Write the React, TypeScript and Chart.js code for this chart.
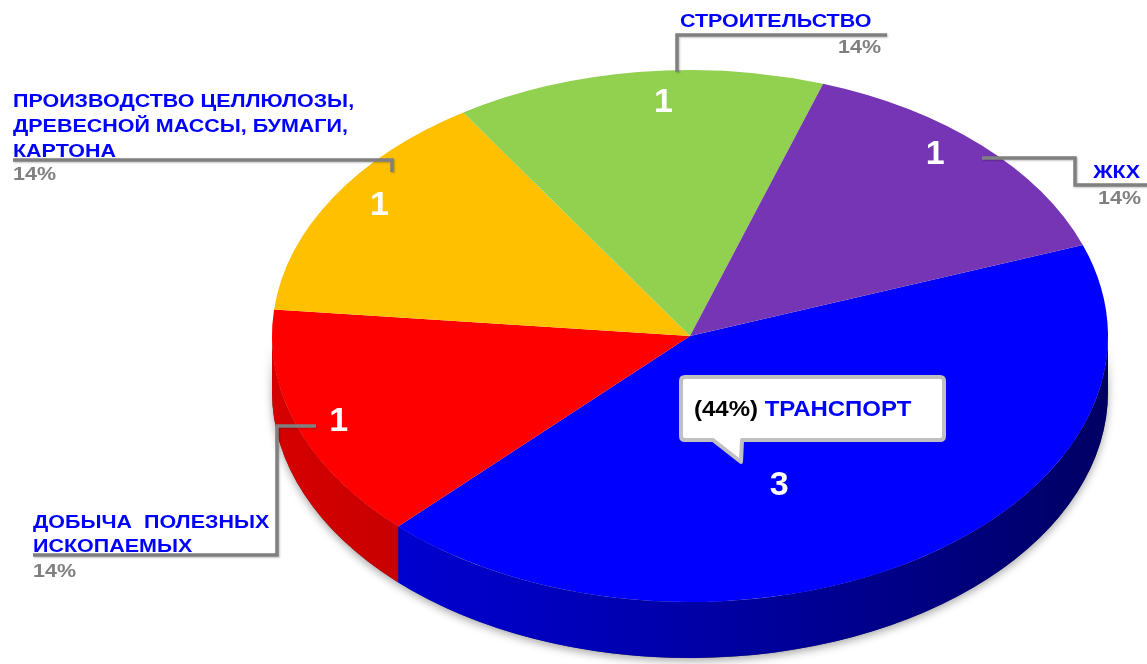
import React, { useEffect, useRef } from "react";
import { Chart, registerables } from "chart.js";

Chart.register(...registerables);

// ---------- data ----------
const categories = [
  "ТРАНСПОРТ",
  "ДОБЫЧА  ПОЛЕЗНЫХ ИСКОПАЕМЫХ",
  "ПРОИЗВОДСТВО ЦЕЛЛЮЛОЗЫ, ДРЕВЕСНОЙ МАССЫ, БУМАГИ, КАРТОНА",
  "СТРОИТЕЛЬСТВО",
  "ЖКХ",
];
const values = [3, 1, 1, 1, 1];
const percentLabels = ["44%", "14%", "14%", "14%", "14%"];
const categoryLines = [
  ["ТРАНСПОРТ"],
  ["ДОБЫЧА  ПОЛЕЗНЫХ", "ИСКОПАЕМЫХ"],
  ["ПРОИЗВОДСТВО ЦЕЛЛЮЛОЗЫ,", "ДРЕВЕСНОЙ МАССЫ, БУМАГИ,", "КАРТОНА"],
  ["СТРОИТЕЛЬСТВО"],
  ["ЖКХ"],
];

// ---------- styles ----------
const topColors = ["#0000FF", "#FF0000", "#FFC000", "#92D050", "#7535B5"];
const sideColors = [
  [0, 0, 235],
  [225, 0, 0],
  [230, 170, 0],
  [120, 180, 60],
  [95, 40, 150],
];
const GEO = { cx: 690, cy: 336, rx: 418, ry: 266, depth: 56 };
const valueLabelRadius = [0.6, 0.9, 0.89, 0.88, 0.9];
const valueLabelShiftDeg = [12, -1, 2, 3, -3.6];

const FONT = "'Liberation Sans', Arial, sans-serif";
const BLUE = "#0000FF";
const GRAY = "#808080";
const SX = 1.13;
const LBL = 19;

function drawText(
  ctx: CanvasRenderingContext2D,
  text: string,
  x: number,
  y: number,
  size: number,
  color: string,
  align: CanvasTextAlign,
  sx = SX
) {
  ctx.save();
  ctx.font = `bold ${size}px ${FONT}`;
  ctx.fillStyle = color;
  ctx.textAlign = align;
  ctx.textBaseline = "alphabetic";
  ctx.translate(x, y);
  ctx.scale(sx, 1);
  ctx.fillText(text, 0, 0);
  ctx.restore();
}

function polyline(ctx: CanvasRenderingContext2D, pts: number[][]) {
  ctx.save();
  ctx.strokeStyle = GRAY;
  ctx.lineWidth = 3.5;
  ctx.lineJoin = "miter";
  ctx.shadowColor = "rgba(0,0,0,0.25)";
  ctx.shadowBlur = 2;
  ctx.shadowOffsetX = 1;
  ctx.shadowOffsetY = 1;
  ctx.beginPath();
  ctx.moveTo(pts[0][0], pts[0][1]);
  for (let i = 1; i < pts.length; i++) ctx.lineTo(pts[i][0], pts[i][1]);
  ctx.stroke();
  ctx.restore();
}

function frontRanges(s: number, e: number) {
  const res: number[][] = [];
  for (let k = -3; k <= 3; k++) {
    const a0 = k * 2 * Math.PI;
    const a1 = a0 + Math.PI;
    const a = Math.max(s, a0);
    const b = Math.min(e, a1);
    if (b > a) res.push([a, b]);
  }
  return res;
}

const pie3d = {
  id: "pie3d",
  beforeDatasetsDraw(chart: any) {
    const ctx: CanvasRenderingContext2D = chart.ctx;
    const arcs = chart.getDatasetMeta(0).data;
    const { cx, cy, rx, ry, depth } = GEO;
    // soft shadow of the wall
    ctx.save();
    ctx.shadowColor = "rgba(0,0,0,0.35)";
    ctx.shadowBlur = 8;
    ctx.shadowOffsetY = 3;
    ctx.fillStyle = "#444";
    ctx.beginPath();
    ctx.ellipse(cx, cy, rx, ry, 0, 0, Math.PI, false);
    ctx.ellipse(cx, cy + depth, rx, ry, 0, Math.PI, 0, true);
    ctx.closePath();
    ctx.fill();
    ctx.restore();
    // walls
    arcs.forEach((arc: any, i: number) => {
      const { startAngle, endAngle } = arc.getProps(["startAngle", "endAngle"], true);
      const [r, g, b] = sideColors[i];
      const grad = ctx.createLinearGradient(cx - rx, 0, cx + rx, 0);
      const c = (f: number) => `rgb(${Math.round(r * f)},${Math.round(g * f)},${Math.round(b * f)})`;
      grad.addColorStop(0, c(0.95));
      grad.addColorStop(0.3, c(0.82));
      grad.addColorStop(0.7, c(0.6));
      grad.addColorStop(1, c(0.42));
      frontRanges(startAngle, endAngle).forEach(([a, bb]) => {
        ctx.save();
        ctx.fillStyle = grad;
        ctx.beginPath();
        ctx.ellipse(cx, cy, rx, ry, 0, a, bb, false);
        ctx.ellipse(cx, cy + depth, rx, ry, 0, bb, a, true);
        ctx.closePath();
        ctx.fill();
        ctx.restore();
      });
    });
    // top face transform: circle -> ellipse
    const a0 = arcs[0];
    const R = a0.outerRadius;
    ctx.save();
    ctx.translate(cx, cy);
    ctx.scale(rx / R, ry / R);
    ctx.translate(-a0.x, -a0.y);
  },
  afterDatasetsDraw(chart: any) {
    chart.ctx.restore();
  },
  afterDraw(chart: any) {
    const ctx: CanvasRenderingContext2D = chart.ctx;
    const arcs = chart.getDatasetMeta(0).data;
    const { cx, cy, rx, ry } = GEO;

    // value labels on slices
    arcs.forEach((arc: any, i: number) => {
      const { startAngle, endAngle } = arc.getProps(["startAngle", "endAngle"], true);
      const mid = (startAngle + endAngle) / 2 + (valueLabelShiftDeg[i] * Math.PI) / 180;
      const f = valueLabelRadius[i];
      const x = cx + rx * f * Math.cos(mid);
      const y = cy + ry * f * Math.sin(mid);
      ctx.save();
      ctx.font = `bold 34px ${FONT}`;
      ctx.fillStyle = "#FFFFFF";
      ctx.textAlign = "center";
      ctx.textBaseline = "middle";
      ctx.fillText(String(values[i]), x, y);
      ctx.restore();
    });

    // leader lines
    polyline(ctx, [[677, 72], [677, 35], [887, 35]]);
    polyline(ctx, [[982, 158], [1075, 158], [1075, 185], [1150, 185]]);
    polyline(ctx, [[13, 160], [392, 160], [392, 172]]);
    polyline(ctx, [[316, 426], [277, 426], [277, 555], [33, 555]]);

    // СТРОИТЕЛЬСТВО
    drawText(ctx, categoryLines[3][0], 680, 27, LBL, BLUE, "left");
    drawText(ctx, percentLabels[3], 881, 53, LBL, GRAY, "right");
    // ЖКХ
    drawText(ctx, categoryLines[4][0], 1140, 178, LBL, BLUE, "right");
    drawText(ctx, percentLabels[4], 1141, 204, LBL, GRAY, "right");
    // ПРОИЗВОДСТВО
    categoryLines[2].forEach((t, k) => drawText(ctx, t, 13, 107 + k * 25, LBL, BLUE, "left"));
    drawText(ctx, percentLabels[2], 13, 180, LBL, GRAY, "left");
    // ДОБЫЧА
    categoryLines[1].forEach((t, k) => drawText(ctx, t, 33, 528 + k * 24, LBL, BLUE, "left"));
    drawText(ctx, percentLabels[1], 33, 577, LBL, GRAY, "left");

    // callout for ТРАНСПОРТ
    ctx.save();
    ctx.fillStyle = "#FFFFFF";
    ctx.strokeStyle = "#C0C0C0";
    ctx.lineWidth = 4;
    ctx.lineJoin = "round";
    const L = 681, T = 377, Rr = 944, B = 440, rad = 4;
    ctx.beginPath();
    ctx.moveTo(L + rad, T);
    ctx.lineTo(Rr - rad, T);
    ctx.quadraticCurveTo(Rr, T, Rr, T + rad);
    ctx.lineTo(Rr, B - rad);
    ctx.quadraticCurveTo(Rr, B, Rr - rad, B);
    ctx.lineTo(742, B);
    ctx.lineTo(741, 462);
    ctx.lineTo(713, B);
    ctx.lineTo(L + rad, B);
    ctx.quadraticCurveTo(L, B, L, B - rad);
    ctx.lineTo(L, T + rad);
    ctx.quadraticCurveTo(L, T, L + rad, T);
    ctx.closePath();
    ctx.fill();
    ctx.stroke();
    ctx.restore();

    const pre = `(${percentLabels[0]}) `;
    const csx = 1.09;
    ctx.save();
    ctx.font = `bold 22px ${FONT}`;
    const w = ctx.measureText(pre).width * csx;
    ctx.restore();
    drawText(ctx, pre, 694, 416, 22, "#000000", "left", csx);
    drawText(ctx, categoryLines[0][0], 694 + w, 416, 22, BLUE, "left", csx);
  },
};

export default function App() {
  const ref = useRef<HTMLCanvasElement | null>(null);
  useEffect(() => {
    if (!ref.current) return;
    const chart = new Chart(ref.current, {
      type: "pie",
      data: {
        labels: categories,
        datasets: [
          {
            data: values,
            backgroundColor: topColors,
            borderWidth: 0,
            clip: false as any,
          } as any,
        ],
      },
      options: {
        responsive: false,
        animation: false,
        events: [],
        rotation: 70,
        layout: { padding: 0 },
        plugins: {
          legend: { display: false },
          tooltip: { enabled: false },
        },
      },
      plugins: [pie3d as any],
    });
    return () => chart.destroy();
  }, []);
  return (
    <div style={{ position: "fixed", left: 0, top: 0, width: 1147, height: 664, background: "#fff" }}>
      <canvas ref={ref} width={1147} height={664} style={{ display: "block" }} />
    </div>
  );
}
